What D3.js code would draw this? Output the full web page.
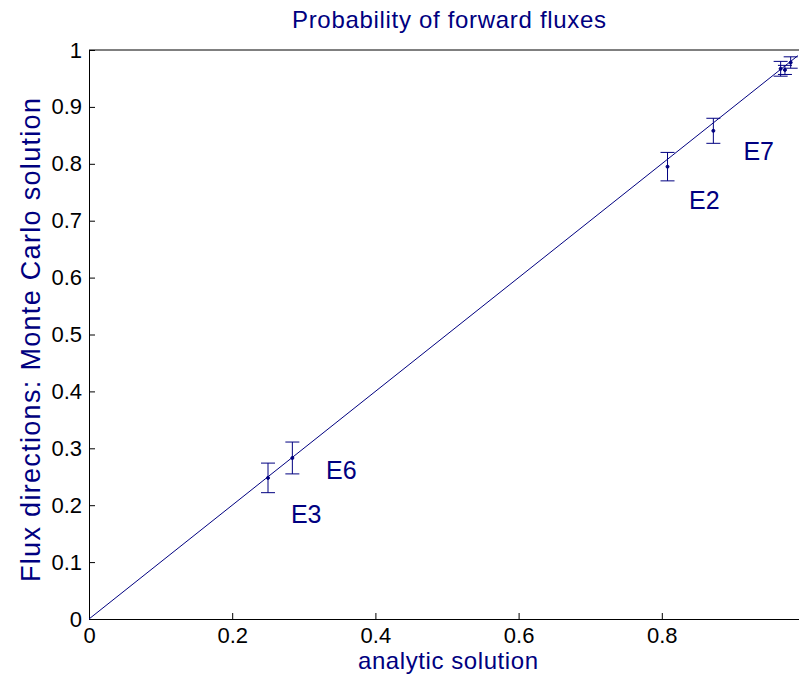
<!DOCTYPE html>
<html>
<head>
<meta charset="utf-8">
<script src="https://cdn.jsdelivr.net/npm/d3@7"></script>
<style>
  body { margin: 0; background: #fff; }
  text { font-family: "Liberation Sans", Arial, sans-serif; }
</style>
</head>
<body>
<div id="chart"></div>
<script>
// analytic vs Monte Carlo probabilities, with error bars
const analytic = [0.250, 0.284, 0.808, 0.872, 0.966, 0.972, 0.980];
const monteCarlo = [0.248, 0.283, 0.795, 0.858, 0.967, 0.965, 0.978];
const errors = [0.026, 0.028, 0.025, 0.022, 0.013, 0.008, 0.010];

const labelNames = ["E3", "E6", "E2", "E7"];
const labelX = [0.282, 0.331, 0.838, 0.914];
const labelY = [0.169, 0.246, 0.720, 0.807];

const xTicks = [0, 0.2, 0.4, 0.6, 0.8];
const yTicks = [0, 0.1, 0.2, 0.3, 0.4, 0.5, 0.6, 0.7, 0.8, 0.9, 1];

const width = 799, height = 677;
const navy = "#000080";

const svg = d3.select("#chart").append("svg")
  .attr("width", width)
  .attr("height", height);

const x = d3.scaleLinear().domain([0, 1]).range([89, 805]);
const y = d3.scaleLinear().domain([0, 1]).range([619, 50]);

// axes (ticks inside)
svg.append("g")
  .attr("transform", `translate(0,${y(0)})`)
  .call(d3.axisBottom(x).tickValues(xTicks).tickSizeInner(-6).tickSizeOuter(0)
    .tickFormat(d => d === 0 ? "0" : d3.format(".1f")(d)))
  .call(g => g.select(".domain").attr("stroke", "#000"))
  .call(g => g.selectAll(".tick line").attr("stroke", "#000"))
  .call(g => g.selectAll(".tick text").attr("font-size", 22).attr("fill", "#000")
    .attr("dy", null).attr("y", 24));

svg.append("g")
  .attr("transform", `translate(${x(0)},0)`)
  .call(d3.axisLeft(y).tickValues(yTicks).tickSizeInner(-6).tickSizeOuter(0)
    .tickFormat(d => (d === 0 || d === 1) ? String(d) : d3.format(".1f")(d)))
  .call(g => g.select(".domain").attr("stroke", "#000"))
  .call(g => g.selectAll(".tick line").attr("stroke", "#000"))
  .call(g => g.selectAll(".tick text").attr("font-size", 22).attr("fill", "#000")
    .attr("x", -7));

// top border
svg.append("line")
  .attr("x1", x(0)).attr("x2", x(1))
  .attr("y1", y(1)).attr("y2", y(1))
  .attr("stroke", "#000");

// y = x reference line
svg.append("line")
  .attr("x1", x(0)).attr("y1", y(0))
  .attr("x2", x(0.99)).attr("y2", y(0.99))
  .attr("stroke", navy).attr("stroke-width", 1);

// error bars
const bars = svg.append("g").attr("stroke", navy).attr("stroke-width", 1)
  .selectAll("g").data(analytic).enter().append("g");
const cap = 7;
bars.append("line")
  .attr("x1", d => x(d)).attr("x2", d => x(d))
  .attr("y1", (d, i) => y(monteCarlo[i] + errors[i]))
  .attr("y2", (d, i) => y(monteCarlo[i] - errors[i]));
bars.append("line")
  .attr("x1", d => x(d) - cap).attr("x2", d => x(d) + cap)
  .attr("y1", (d, i) => y(monteCarlo[i] + errors[i]))
  .attr("y2", (d, i) => y(monteCarlo[i] + errors[i]));
bars.append("line")
  .attr("x1", d => x(d) - cap).attr("x2", d => x(d) + cap)
  .attr("y1", (d, i) => y(monteCarlo[i] - errors[i]))
  .attr("y2", (d, i) => y(monteCarlo[i] - errors[i]));
bars.append("circle")
  .attr("cx", d => x(d)).attr("cy", (d, i) => y(monteCarlo[i]))
  .attr("r", 1.5).attr("fill", navy);

// point labels
svg.selectAll(".lbl").data(labelNames).enter().append("text")
  .attr("class", "lbl")
  .attr("x", (d, i) => x(labelX[i]))
  .attr("y", (d, i) => y(labelY[i]))
  .attr("font-size", 25).attr("fill", navy)
  .text(d => d);

// title and axis labels
svg.append("text")
  .attr("x", 449).attr("y", 28)
  .attr("text-anchor", "middle").attr("font-size", 24).attr("fill", navy)
  .attr("textLength", 314).attr("lengthAdjust", "spacing")
  .text("Probability of forward fluxes");

svg.append("text")
  .attr("x", 448).attr("y", 669)
  .attr("text-anchor", "middle").attr("font-size", 24).attr("fill", navy)
  .attr("textLength", 180).attr("lengthAdjust", "spacing")
  .text("analytic solution");

svg.append("text")
  .attr("transform", "translate(40,340) rotate(-90)")
  .attr("text-anchor", "middle").attr("font-size", 27).attr("fill", navy)
  .attr("textLength", 484).attr("lengthAdjust", "spacing")
  .text("Flux directions: Monte Carlo solution");
</script>
</body>
</html>
